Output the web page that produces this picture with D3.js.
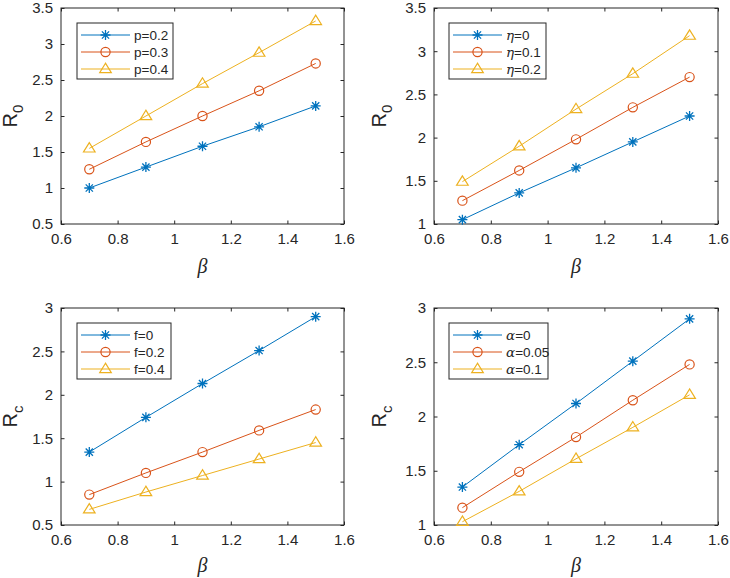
<!DOCTYPE html>
<html><head><meta charset="utf-8">
<script src="https://cdn.jsdelivr.net/npm/d3@7"></script>
<style>body{margin:0;background:#fff;} text{font-family:"Liberation Sans",Arial,sans-serif;fill:#262626;}</style>
</head><body>
<svg id="chart" width="730" height="578"></svg>
<script>
const beta = [0.7, 0.9, 1.1, 1.3, 1.5];
const xTicks = [0.6, 0.8, 1, 1.2, 1.4, 1.6];

// Panel A: R0 vs beta for p
const pLabels = ["p=0.2", "p=0.3", "p=0.4"];
const pA1 = [1.00, 1.29, 1.58, 1.85, 2.14];
const pA2 = [1.26, 1.64, 2.00, 2.35, 2.73];
const pA3 = [1.55, 2.00, 2.45, 2.88, 3.32];

// Panel B: R0 vs beta for eta
const etaVals = ["0", "0.1", "0.2"];
const pB1 = [1.05, 1.36, 1.65, 1.95, 2.25];
const pB2 = [1.27, 1.62, 1.98, 2.35, 2.70];
const pB3 = [1.49, 1.90, 2.33, 2.74, 3.18];

// Panel C: Rc vs beta for f
const fLabels = ["f=0", "f=0.2", "f=0.4"];
const pC1 = [1.34, 1.74, 2.13, 2.51, 2.90];
const pC2 = [0.85, 1.10, 1.34, 1.59, 1.83];
const pC3 = [0.68, 0.88, 1.07, 1.26, 1.45];

// Panel D: Rc vs beta for alpha
const alphaVals = ["0", "0.05", "0.1"];
const pD1 = [1.35, 1.74, 2.12, 2.51, 2.90];
const pD2 = [1.16, 1.49, 1.81, 2.15, 2.48];
const pD3 = [1.03, 1.31, 1.61, 1.90, 2.20];

const yTicksA = [0.5, 1, 1.5, 2, 2.5, 3, 3.5];
const yTicksB = [1, 1.5, 2, 2.5, 3, 3.5];
const yTicksC = [0.5, 1, 1.5, 2, 2.5, 3];
const yTicksD = [1, 1.5, 2, 2.5, 3];

const colors = ["#0072BD", "#D95319", "#EDB120"];
const markers = ["star", "circle", "triangle"];

const svg = d3.select("#chart");

function marker(g, type, x, y, color) {
  if (type === "star") {
    const r = 5;
    const p = d3.path();
    p.moveTo(x - r, y); p.lineTo(x + r, y);
    p.moveTo(x, y - r); p.lineTo(x, y + r);
    const d = r * 0.72;
    p.moveTo(x - d, y - d); p.lineTo(x + d, y + d);
    p.moveTo(x - d, y + d); p.lineTo(x + d, y - d);
    g.append("path").attr("d", p.toString()).attr("stroke", color).attr("stroke-width", 1.3).attr("fill", "none");
  } else if (type === "circle") {
    g.append("circle").attr("cx", x).attr("cy", y).attr("r", 4.6).attr("stroke", color).attr("stroke-width", 1.2).attr("fill", "none");
  } else {
    const s = 5.8;
    const pts = [[x, y - s], [x - s * 1.0, y + s * 0.62], [x + s * 1.0, y + s * 0.62]];
    g.append("path").attr("d", "M" + pts.map(p => p.join(",")).join("L") + "Z").attr("stroke", color).attr("stroke-width", 1.2).attr("fill", "none");
  }
}

function legendText(t, spec) {
  if (spec.greek) {
    t.append("tspan").attr("font-family", "'DejaVu Serif','Liberation Serif',serif").attr("font-style", "italic").text(spec.greek);
    t.append("tspan").text("=" + spec.val);
  } else {
    t.text(spec.text);
  }
}

function panel(cfg) {
  const g = svg.append("g");
  const x = d3.scaleLinear().domain([0.6, 1.6]).range([cfg.left, cfg.right]);
  const y = d3.scaleLinear().domain(cfg.yDomain).range([cfg.bottom, cfg.top]);

  g.append("rect").attr("x", cfg.left).attr("y", cfg.top).attr("width", cfg.right - cfg.left).attr("height", cfg.bottom - cfg.top)
    .attr("fill", "#fff").attr("stroke", "#262626").attr("stroke-width", 1);

  const tl = 3.5;
  const xb = d3.axisBottom(x).tickValues(xTicks).tickSizeInner(-tl).tickSizeOuter(0).tickPadding(9).tickFormat(d3.format("~g"));
  const ax = g.append("g").attr("transform", `translate(0,${cfg.bottom})`).call(xb);
  const xt = d3.axisTop(x).tickValues(xTicks).tickSizeInner(-tl).tickSizeOuter(0).tickFormat("");
  const axT = g.append("g").attr("transform", `translate(0,${cfg.top})`).call(xt);
  const yl = d3.axisLeft(y).tickValues(cfg.yTicks).tickSizeInner(-tl).tickSizeOuter(0).tickPadding(8).tickFormat(d3.format("~g"));
  const ay = g.append("g").attr("transform", `translate(${cfg.left},0)`).call(yl);
  const yr = d3.axisRight(y).tickValues(cfg.yTicks).tickSizeInner(-tl).tickSizeOuter(0).tickFormat("");
  const ayR = g.append("g").attr("transform", `translate(${cfg.right},0)`).call(yr);
  [ax, axT, ay, ayR].forEach(a => {
    a.select(".domain").remove();
    a.selectAll("line").attr("stroke", "#262626").attr("stroke-width", 1);
    a.selectAll("text").attr("font-size", 15).attr("fill", "#262626").style("font-family", "'Liberation Sans',Arial,sans-serif");
  });

  const line = d3.line().x((d, i) => x(beta[i])).y(d => y(d));
  cfg.series.forEach((s, k) => {
    g.append("path").datum(s).attr("d", line).attr("fill", "none").attr("stroke", colors[k]).attr("stroke-width", 1);
    s.forEach((v, i) => marker(g, markers[k], x(beta[i]), y(v), colors[k]));
  });

  const L = cfg.legend;
  g.append("rect").attr("x", L.x).attr("y", L.y).attr("width", L.w).attr("height", 56)
    .attr("fill", "#fff").attr("stroke", "#262626").attr("stroke-width", 1);
  cfg.labels.forEach((spec, k) => {
    const yy = L.y + 12 + k * 17;
    g.append("line").attr("x1", L.x + 4).attr("x2", L.x + 53).attr("y1", yy).attr("y2", yy)
      .attr("stroke", colors[k]).attr("stroke-width", 1);
    marker(g, markers[k], L.x + 28.5, yy, colors[k]);
    const t = g.append("text").attr("x", L.x + 57).attr("y", yy).attr("dy", "0.35em").attr("font-size", 13.5);
    legendText(t, spec);
  });

  const yc = (cfg.top + cfg.bottom) / 2;
  const yt = g.append("text").attr("transform", `translate(${cfg.ylabX},${yc}) rotate(-90)`).attr("text-anchor", "middle").attr("font-size", 20);
  yt.append("tspan").text("R");
  yt.append("tspan").attr("font-size", 15).attr("dy", 6).text(cfg.sub);

  g.append("text").attr("x", (cfg.left + cfg.right) / 2).attr("y", cfg.xlabY).attr("text-anchor", "middle")
    .attr("font-size", 20).attr("font-style", "italic").style("font-family", "'Liberation Serif','DejaVu Serif',serif").text("β");
}

panel({left: 61, right: 344, top: 8, bottom: 224, yDomain: [0.5, 3.5], yTicks: yTicksA,
  series: [pA1, pA2, pA3], labels: pLabels.map(t => ({text: t})),
  legend: {x: 77, y: 23, w: 96}, sub: "0", ylabX: 17, xlabY: 273});
panel({left: 434, right: 718, top: 8, bottom: 224, yDomain: [1, 3.5], yTicks: yTicksB,
  series: [pB1, pB2, pB3], labels: etaVals.map(v => ({greek: "η", val: v})),
  legend: {x: 449, y: 23, w: 97}, sub: "0", ylabX: 386, xlabY: 273});
panel({left: 61, right: 344, top: 308, bottom: 525, yDomain: [0.5, 3], yTicks: yTicksC,
  series: [pC1, pC2, pC3], labels: fLabels.map(t => ({text: t})),
  legend: {x: 77, y: 323, w: 94}, sub: "c", ylabX: 17, xlabY: 572});
panel({left: 434, right: 718, top: 308, bottom: 525, yDomain: [1, 3], yTicks: yTicksD,
  series: [pD1, pD2, pD3], labels: alphaVals.map(v => ({greek: "α", val: v})),
  legend: {x: 449, y: 323, w: 99}, sub: "c", ylabX: 386, xlabY: 572});
</script>
</body></html>
